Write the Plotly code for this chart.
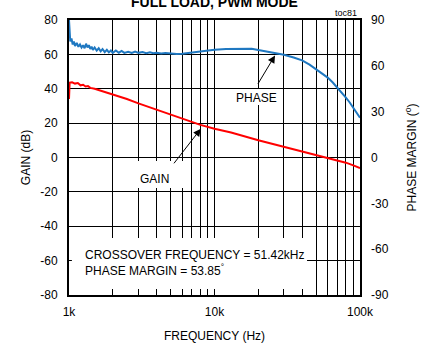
import plotly.graph_objects as go

# loop gain / phase margin, full load PWM mode
freq_gain = [1000, 1010, 1050, 1100, 1150, 1200, 1250, 1300, 1350, 1400, 1500, 1700,
             2000, 2500, 3000, 4000, 5000, 6000, 7000, 8000, 10000, 13000, 20000,
             30000, 40000, 50000, 60000, 70000, 80000, 90000, 100000]
gain_db = [34, 43.5, 43.8, 43.0, 43.3, 42.0, 42.3, 41.3, 41.6, 40.5, 40.0, 38.6,
           36.5, 34.0, 31.5, 27.8, 24.8, 22.4, 20.6, 19.0, 16.7, 14.5, 10.0,
           6.3, 3.6, 1.6, 0.0, -1.6, -3.0, -4.6, -6.2]

freq_phase = [1000, 1010, 1020, 1040, 1060, 1080, 1100, 1130, 1160, 1190, 1220, 1250,
              1280, 1310, 1340, 1370, 1400, 1430, 1460, 1500, 1550, 1600, 1650, 1700,
              1760, 1820, 1880, 1940, 2000, 2100, 2200, 2300, 2400, 2550, 2700, 2850,
              3000, 3200, 3400, 3600, 3800, 4000, 4300, 4600, 5000, 5500, 6000, 6500,
              7000, 8000, 9000, 10000, 12000, 15000, 18000, 20000, 25000, 30000, 35000,
              40000, 45000, 50000, 55000, 60000, 65000, 70000, 75000, 80000, 85000,
              90000, 95000, 100000]
phase_deg = [90, 79, 76, 78, 74, 76, 73, 75, 72.5, 74, 72, 73.5,
             71.5, 74.5, 72, 73.5, 71, 72.5, 70.5, 72, 70, 71.5, 69.5, 71,
             69, 70.5, 68.8, 70, 68.5, 70, 68.6, 69.8, 68.5, 69.2, 68.4, 69.3,
             68.5, 69, 68.3, 68.9, 68.2, 68.6, 68.1, 68.4, 68.0, 67.8, 67.9, 68.3,
             68.8, 69.6, 70.2, 70.6, 71.1, 71.4, 71.2, 70.3, 68.5, 67.3, 65.5,
             63.6, 60.8, 57.8, 55.1, 52.3, 49.1, 45.7, 42.5, 39.2, 36.0,
             32.6, 29.3, 26.0]

freq_ticks = [1000, 2000, 3000, 4000, 5000, 6000, 7000, 8000, 9000,
              10000, 20000, 30000, 40000, 50000, 60000, 70000, 80000, 90000, 100000]
freq_labels = ['1k'] + [''] * 8 + ['10k'] + [''] * 8 + ['100k']
gain_ticks = [-80, -60, -40, -20, 0, 20, 40, 60, 80]
gain_labels = ['-80', '-60', '-40', '-20', '0', '20', '40', '60', '80']
phase_ticks = [-90, -60, -30, 0, 30, 60, 90]
phase_labels = ['-90', '-60', '-30', '0', '30', '60', '90']

font = dict(family='Liberation Sans, Arial', size=12, color='black')

fig = go.Figure()
fig.add_trace(go.Scatter(x=freq_gain, y=gain_db, mode='lines',
                         line=dict(color='#ff0000', width=2)))
fig.add_trace(go.Scatter(x=freq_phase, y=phase_deg, mode='lines', yaxis='y2',
                         line=dict(color='#1f78c1', width=2)))

# white masks behind the labels (grid shows through elsewhere)
masks = [(0.010, 0.818, 0.022, 0.207),   # crossover text box
         (0.234, 0.419, 0.389, 0.487),   # GAIN
         (0.564, 0.728, 0.691, 0.749)]   # PHASE
for x0, x1, y0, y1 in masks:
    fig.add_shape(type='rect', xref='paper', yref='paper', x0=x0, x1=x1, y0=y0, y1=y1,
                  fillcolor='white', line=dict(width=0), layer='above')

fig.update_layout(
    width=427, height=343,
    margin=dict(l=69, r=67, t=20, b=48),
    paper_bgcolor='white', plot_bgcolor='white',
    showlegend=False,
    font=font,
    xaxis=dict(type='log', range=[3, 5], tickvals=freq_ticks, ticktext=freq_labels,
               showgrid=True, gridcolor='black', gridwidth=1,
               showline=True, linecolor='black', linewidth=2, mirror=True,
               ticks='', ticklabelstandoff=5, automargin=False,
               title=dict(text='FREQUENCY (Hz)', standoff=19, font=dict(size=12)),
               zeroline=False),
    yaxis=dict(range=[-80, 80], tickvals=gain_ticks, ticktext=gain_labels,
               showgrid=True, gridcolor='black', gridwidth=1,
               showline=True, linecolor='black', linewidth=2, mirror=True,
               ticks='', ticklabelstandoff=7, zeroline=False, automargin=False,
               title=dict(text='GAIN (dB)', standoff=7, font=dict(size=12))),
    yaxis2=dict(range=[-90, 90], tickvals=phase_ticks, ticktext=phase_labels,
                overlaying='y', side='right',
                showgrid=False, zeroline=False, ticks='', ticklabelstandoff=10,
                automargin=False,
                title=dict(text='PHASE MARGIN (<sup>o</sup>)', standoff=19,
                           font=dict(size=12))),
)

fig.add_annotation(text='<b>FULL LOAD, PWM MODE</b>', xref='paper', yref='paper',
                   x=0.5, y=1, xanchor='center', yanchor='middle', yshift=18,
                   showarrow=False, font=dict(size=14))
fig.add_annotation(text='toc81', xref='paper', yref='paper', x=1, y=1,
                   xanchor='right', yanchor='bottom', xshift=-1, showarrow=False,
                   font=dict(size=9))
fig.add_annotation(text='CROSSOVER FREQUENCY = 51.42kHz<br>PHASE MARGIN = 53.85<sup>°</sup>',
                   xref='paper', yref='paper', x=0.048, y=0.118, xanchor='left',
                   yanchor='middle', align='left', showarrow=False, font=dict(size=12))
fig.add_annotation(text='GAIN', xref='paper', yref='paper', x=0.2955, y=0.422,
                   xanchor='center', yanchor='middle', showarrow=False,
                   font=dict(size=12))
fig.add_annotation(text='PHASE', xref='paper', yref='paper', x=0.646, y=0.718,
                   xanchor='center', yanchor='middle', showarrow=False,
                   font=dict(size=12))
# arrows
fig.add_annotation(x=3.906, y=16.7, xref='x', yref='y', text='', showarrow=True,
                   arrowhead=2, arrowsize=1.5, arrowwidth=1, arrowcolor='black',
                   ax=-28, ay=36)
fig.add_annotation(x=4.416, y=59.4, xref='x', yref='y', text='', showarrow=True,
                   arrowhead=2, arrowsize=1.5, arrowwidth=1, arrowcolor='black',
                   ax=-18, ay=30)

# the page gets the figure flush at its top-left corner
fig.write_html('out.html', config={'displayModeBar': False},
               post_script="document.body.style.margin='0';")
